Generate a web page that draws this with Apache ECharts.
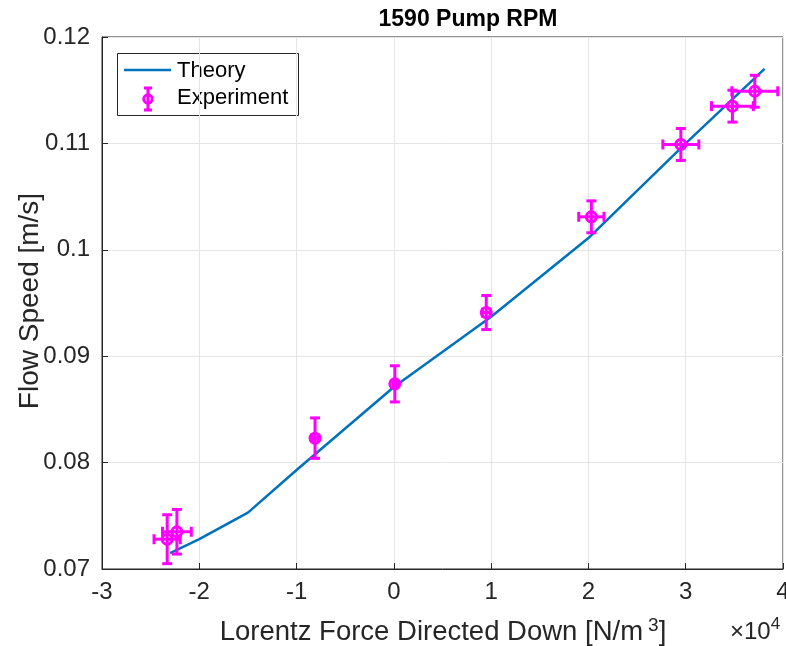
<!DOCTYPE html>
<html>
<head>
<meta charset="utf-8">
<script src="https://cdn.jsdelivr.net/npm/echarts@6/dist/echarts.min.js"></script>
<style>
html,body{margin:0;padding:0;background:#fff;}
#chart{width:786px;height:646px;}
</style>
</head>
<body>
<div id="chart"></div>
<script>
// Theory curve (x in units of 1e4 N/m^3, flow speed m/s)
var theoryX = [-2.30, -2.00, -1.50, -1.00, 0.00, 1.00, 2.00, 3.00, 3.81];
var theoryY = [0.0715, 0.0728, 0.0753, 0.0793, 0.0871, 0.0937, 0.1011, 0.1100, 0.1170];

// Experiment points with error bars
var expX    = [-2.33, -2.23, -0.81, 0.01, 0.95, 2.03, 2.95, 3.48, 3.71];
var expY    = [0.0728, 0.0735, 0.0823, 0.0874, 0.0941, 0.1031, 0.1099, 0.1135, 0.1149];
var expXErr = [0.135, 0.148, 0.03, 0.02, 0.04, 0.13, 0.185, 0.215, 0.236];
var expYErr = [0.0023, 0.0021, 0.0019, 0.0017, 0.0016, 0.0015, 0.0015, 0.0015, 0.0015];

var xTicks = [-3, -2, -1, 0, 1, 2, 3, 4];
var yTicks = [0.07, 0.08, 0.09, 0.10, 0.11, 0.12];

var FONT = 'Liberation Sans, Arial, Helvetica, sans-serif';
var MAG = '#FF00FF';
var BLUE = '#0072BD';
var AX = '#262626';

var theoryData = theoryX.map(function(x, i){ return [x, theoryY[i]]; });
var expData = expX.map(function(x, i){ return [x, expY[i], expXErr[i], expYErr[i]]; });

var chart = echarts.init(document.getElementById('chart'), null, {renderer: 'canvas'});

function errRender(params, api) {
  var x = api.value(0), y = api.value(1), xe = api.value(2), ye = api.value(3);
  var c = api.coord([x, y]);
  var t = api.coord([x, y + ye]);
  var b = api.coord([x, y - ye]);
  var l = api.coord([x - xe, y]);
  var r = api.coord([x + xe, y]);
  var cap = 5;
  var st = {stroke: MAG, lineWidth: 3, fill: null};
  function ln(x1, y1, x2, y2){ return {type:'line', shape:{x1:x1,y1:y1,x2:x2,y2:y2}, style: st}; }
  return {
    type: 'group',
    children: [
      ln(t[0], t[1], b[0], b[1]),
      ln(t[0]-cap, t[1], t[0]+cap, t[1]),
      ln(b[0]-cap, b[1], b[0]+cap, b[1]),
      ln(l[0], l[1], r[0], r[1]),
      ln(l[0], l[1]-cap, l[0], l[1]+cap),
      ln(r[0], r[1]-cap, r[0], r[1]+cap),
      {type:'circle', shape:{cx:c[0], cy:c[1], r:5}, style:{stroke: MAG, lineWidth: 3, fill: 'none'}}
    ]
  };
}

var option = {
  backgroundColor: '#fff',
  animation: false,
  title: {
    text: '1590 Pump RPM',
    left: 463, top: 3, textAlign: 'center',
    textStyle: {fontFamily: FONT, fontSize: 23, fontWeight: 'bold', color: '#000'}
  },
  grid: {left: 102, right: 3, top: 37, bottom: 77, show: true, borderColor: AX, borderWidth: 1,
         backgroundColor: '#fff', containLabel: false, outerBoundsMode: 'none'},
  xAxis: {
    type: 'value', min: -3, max: 4, interval: 1,
    axisLine: {show: true, onZero: false, lineStyle: {color: AX, width: 1}},
    axisTick: {show: true, inside: true, length: 6, lineStyle: {color: AX}},
    axisLabel: {fontFamily: FONT, fontSize: 24, color: AX, margin: 11,
      formatter: function(v){ return String(v); }},
    splitLine: {show: true, lineStyle: {color: '#e5e5e5', width: 1}}
  },
  yAxis: {
    type: 'value', min: 0.07, max: 0.12, interval: 0.01,
    axisLine: {show: true, onZero: false, lineStyle: {color: AX, width: 1}},
    axisTick: {show: true, inside: true, length: 6, lineStyle: {color: AX}},
    axisLabel: {fontFamily: FONT, fontSize: 24, color: AX, margin: 12,
      formatter: function(v){ return String(+v.toFixed(4)); }},
    splitLine: {show: true, lineStyle: {color: '#e5e5e5', width: 1}}
  },
  series: [
    {
      name: 'Theory', type: 'line', data: theoryData, showSymbol: false,
      lineStyle: {color: BLUE, width: 2.5}, z: 3
    },
    {
      name: 'Experiment', type: 'custom', data: expData, renderItem: errRender,
      encode: {x: 0, y: 1}, z: 4
    }
  ],
  graphic: [
    {
      type: 'text', x: 443, y: 632,
      style: {
        text: 'Lorentz Force Directed Down [N/m{s|3}]',
        rich: {s: {fontSize: 19, padding: [0,0,12,5], fontFamily: FONT, fill: AX}},
        fontFamily: FONT, fontSize: 27.5, fill: AX, textAlign: 'center', textVerticalAlign: 'middle'
      }
    },
    {
      type: 'text', x: 755, y: 632,
      style: {
        text: '\u00d710{s|4}',
        rich: {s: {fontSize: 17, padding: [0,0,16,0], fontFamily: FONT, fill: AX}},
        fontFamily: FONT, fontSize: 24, fill: AX, textAlign: 'center', textVerticalAlign: 'middle'
      }
    },
    {
      type: 'text', x: 30, y: 301, rotation: Math.PI / 2,
      style: {
        text: 'Flow Speed [m/s]',
        fontFamily: FONT, fontSize: 28, fill: AX, textAlign: 'center', textVerticalAlign: 'middle'
      }
    },
    {
      type: 'group', z: 100,
      children: [
        {type: 'rect', shape: {x: 117.5, y: 53.5, width: 181, height: 62}, style: {fill: '#fff', stroke: AX, lineWidth: 1}},
        {type: 'line', shape: {x1: 124, y1: 70, x2: 171, y2: 70}, style: {stroke: BLUE, lineWidth: 2.5}},
        {type: 'text', x: 177, y: 71, style: {text: 'Theory', fontFamily: FONT, fontSize: 22, fill: '#000', textVerticalAlign: 'middle'}},
        {type: 'line', shape: {x1: 148, y1: 88, x2: 148, y2: 110}, style: {stroke: MAG, lineWidth: 3}},
        {type: 'line', shape: {x1: 144, y1: 88, x2: 152, y2: 88}, style: {stroke: MAG, lineWidth: 3}},
        {type: 'line', shape: {x1: 144, y1: 110, x2: 152, y2: 110}, style: {stroke: MAG, lineWidth: 3}},
        {type: 'circle', shape: {cx: 148, cy: 99, r: 4.2}, style: {stroke: MAG, lineWidth: 3, fill: 'none'}},
        {type: 'text', x: 177, y: 98, style: {text: 'Experiment', fontFamily: FONT, fontSize: 22, fill: '#000', textVerticalAlign: 'middle'}}
      ]
    }
  ]
};
chart.setOption(option);
</script>
</body>
</html>
